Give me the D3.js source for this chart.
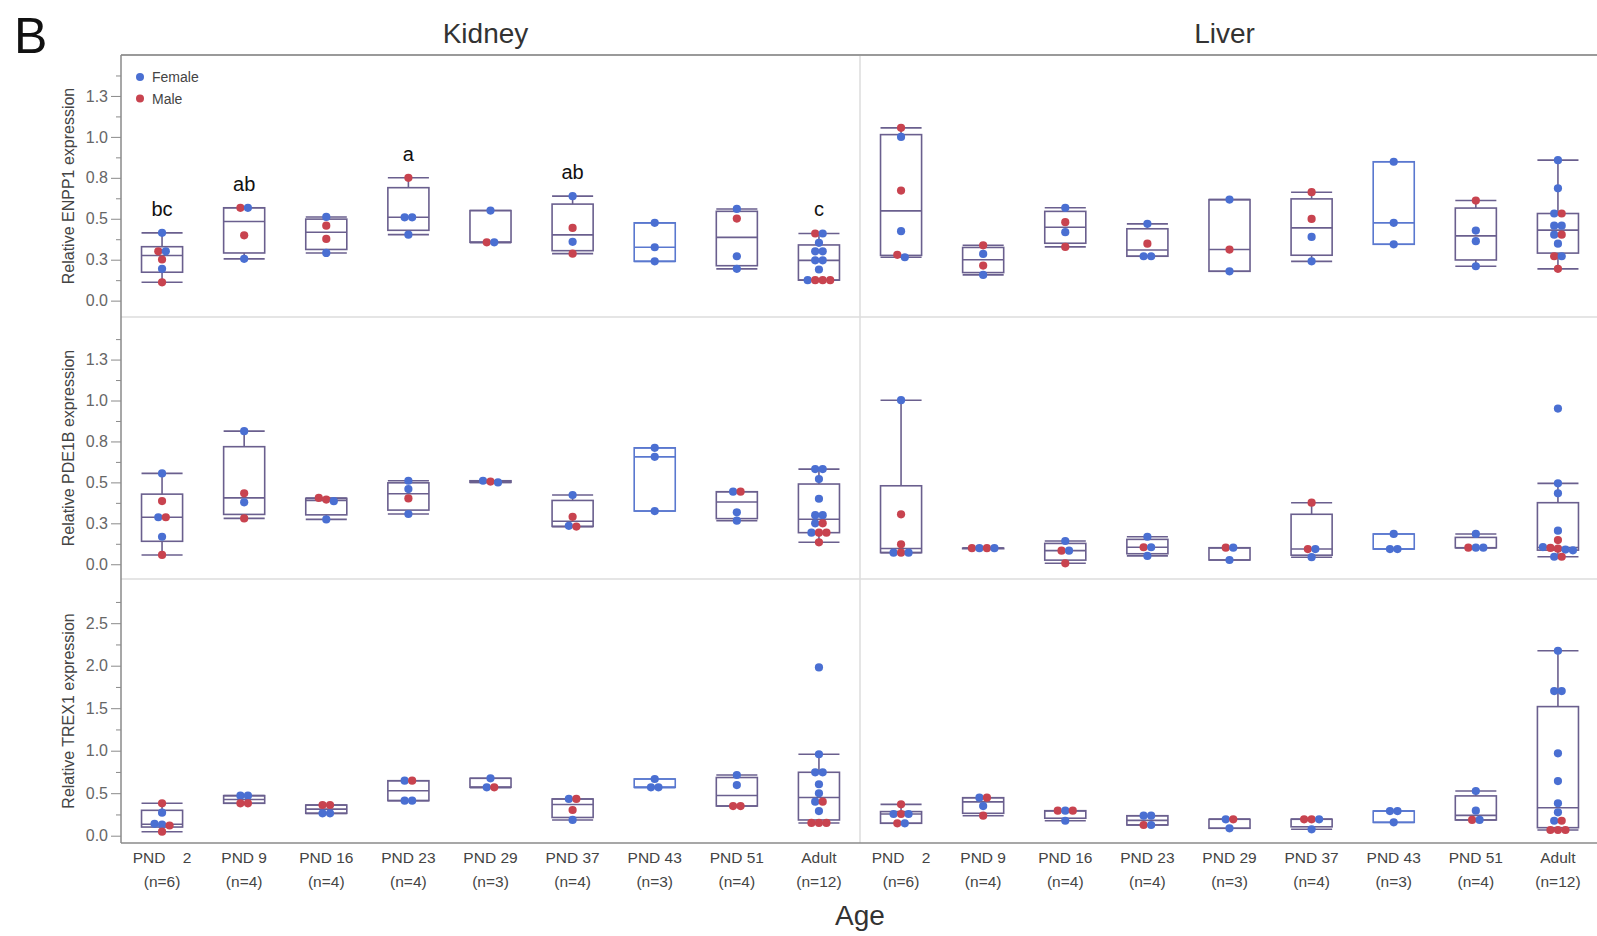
<!DOCTYPE html>
<html>
<head>
<meta charset="utf-8">
<script src="https://cdn.jsdelivr.net/npm/d3@7"></script>
<style>
  body { margin: 0; background: #fff; }
  text { font-family: "Liberation Sans", Arial, sans-serif; }
</style>
</head>
<body>
<svg id="chart" width="1597" height="936"></svg>
<script>
// categories
const ages = ["PND    2", "PND 9", "PND 16", "PND 23", "PND 29", "PND 37", "PND 43", "PND 51", "Adult"];
const counts = ["(n=6)", "(n=4)", "(n=4)", "(n=4)", "(n=3)", "(n=4)", "(n=3)", "(n=4)", "(n=12)"];
const tissues = ["Kidney", "Liver"];
const genes = ["ENPP1", "PDE1B", "TREX1"];
const kidneyENPP1Letters = ["bc", "ab", "", "a", "", "ab", "", "", "c"];

// points per age group: [sex, relative expression]
const kidneyENPP1 = [
  [["F", 0.414], ["M", 0.301], ["F", 0.301], ["M", 0.251], ["F", 0.194], ["M", 0.112]],
  [["M", 0.567], ["F", 0.567], ["M", 0.399], ["F", 0.255]],
  [["F", 0.511], ["M", 0.458], ["M", 0.377], ["F", 0.291]],
  [["M", 0.750], ["F", 0.509], ["F", 0.509], ["F", 0.403]],
  [["F", 0.550], ["M", 0.356], ["F", 0.356]],
  [["F", 0.638], ["M", 0.444], ["F", 0.359], ["M", 0.287]],
  [["F", 0.475], ["F", 0.326], ["F", 0.240]],
  [["F", 0.560], ["M", 0.501], ["F", 0.271], ["F", 0.194]],
  [["M", 0.41], ["F", 0.41], ["F", 0.353], ["F", 0.301], ["F", 0.301], ["F", 0.246], ["F", 0.246],
   ["F", 0.19], ["F", 0.125], ["M", 0.125], ["M", 0.125], ["M", 0.125]]
];
const liverENPP1 = [
  [["M", 1.055], ["F", 1.0], ["M", 0.672], ["F", 0.424], ["M", 0.28], ["F", 0.265]],
  [["M", 0.338], ["F", 0.285], ["M", 0.214], ["F", 0.157]],
  [["F", 0.567], ["M", 0.479], ["F", 0.418], ["M", 0.328]],
  [["F", 0.469], ["M", 0.348], ["F", 0.271], ["F", 0.271]],
  [["F", 0.617], ["M", 0.312], ["F", 0.179]],
  [["M", 0.662], ["M", 0.499], ["F", 0.389], ["F", 0.240]],
  [["F", 0.848], ["F", 0.475], ["F", 0.344]],
  [["M", 0.611], ["F", 0.428], ["F", 0.363], ["F", 0.21]],
  [["F", 0.858], ["F", 0.686], ["F", 0.532], ["M", 0.532], ["F", 0.458], ["F", 0.458], ["F", 0.403],
   ["M", 0.403], ["F", 0.348], ["M", 0.271], ["F", 0.271], ["M", 0.194]]
];
const kidneyPDE1B = [
  [["F", 0.555], ["M", 0.386], ["F", 0.287], ["M", 0.287], ["F", 0.168], ["M", 0.057]],
  [["F", 0.813], ["M", 0.433], ["F", 0.378], ["M", 0.28]],
  [["M", 0.405], ["M", 0.395], ["F", 0.385], ["F", 0.274]],
  [["F", 0.51], ["F", 0.459], ["M", 0.402], ["F", 0.307]],
  [["F", 0.51], ["M", 0.505], ["F", 0.50]],
  [["F", 0.423], ["M", 0.29], ["F", 0.235], ["M", 0.23]],
  [["F", 0.711], ["F", 0.656], ["F", 0.325]],
  [["F", 0.443], ["M", 0.443], ["F", 0.317], ["F", 0.266]],
  [["F", 0.581], ["F", 0.581], ["F", 0.52], ["F", 0.40], ["F", 0.30], ["F", 0.30], ["F", 0.25],
   ["M", 0.25], ["F", 0.193], ["M", 0.193], ["M", 0.193], ["M", 0.134]]
];
const liverPDE1B = [
  [["F", 1.002], ["M", 0.305], ["M", 0.122], ["F", 0.071], ["M", 0.071], ["F", 0.071]],
  [["M", 0.098], ["F", 0.098], ["M", 0.098], ["F", 0.098]],
  [["F", 0.142], ["M", 0.083], ["F", 0.083], ["M", 0.006]],
  [["F", 0.168], ["M", 0.104], ["F", 0.104], ["F", 0.051]],
  [["M", 0.101], ["F", 0.101], ["F", 0.026]],
  [["M", 0.376], ["M", 0.093], ["F", 0.093], ["F", 0.043]],
  [["F", 0.185], ["F", 0.093], ["F", 0.093]],
  [["F", 0.185], ["M", 0.101], ["F", 0.101], ["F", 0.101]],
  [["F", 0.951], ["F", 0.494], ["F", 0.433], ["F", 0.205], ["M", 0.148], ["F", 0.105], ["M", 0.10],
   ["M", 0.095], ["F", 0.09], ["F", 0.085], ["F", 0.046], ["M", 0.046]]
];
const kidneyTREX1 = [
  [["M", 0.381], ["F", 0.271], ["F", 0.14], ["F", 0.13], ["M", 0.12], ["M", 0.047]],
  [["F", 0.471], ["F", 0.471], ["M", 0.381], ["M", 0.381]],
  [["M", 0.361], ["M", 0.361], ["F", 0.263], ["F", 0.263]],
  [["F", 0.647], ["M", 0.647], ["F", 0.412], ["F", 0.412]],
  [["F", 0.675], ["F", 0.569], ["M", 0.569]],
  [["F", 0.432], ["M", 0.432], ["M", 0.302], ["F", 0.185]],
  [["F", 0.667], ["F", 0.569], ["F", 0.569]],
  [["F", 0.714], ["F", 0.596], ["M", 0.349], ["M", 0.349]],
  [["F", 1.98], ["F", 0.958], ["F", 0.746], ["F", 0.746], ["F", 0.605], ["F", 0.498], ["F", 0.40],
   ["M", 0.40], ["F", 0.29], ["M", 0.15], ["M", 0.15], ["M", 0.15]]
];
const liverTREX1 = [
  [["M", 0.369], ["F", 0.255], ["M", 0.255], ["F", 0.255], ["M", 0.146], ["F", 0.146]],
  [["F", 0.447], ["M", 0.447], ["F", 0.349], ["M", 0.235]],
  [["M", 0.294], ["F", 0.294], ["M", 0.294], ["F", 0.176]],
  [["F", 0.235], ["F", 0.235], ["M", 0.126], ["F", 0.126]],
  [["F", 0.193], ["M", 0.193], ["F", 0.087]],
  [["M", 0.193], ["M", 0.193], ["F", 0.193], ["F", 0.075]],
  [["F", 0.29], ["F", 0.29], ["F", 0.157]],
  [["F", 0.526], ["F", 0.294], ["M", 0.185], ["F", 0.185]],
  [["F", 2.176], ["F", 1.702], ["F", 1.702], ["F", 0.969], ["F", 0.643], ["F", 0.381], ["F", 0.275],
   ["F", 0.176], ["M", 0.176], ["M", 0.067], ["M", 0.067], ["M", 0.067]]
];

const rows = [
  { gene: "ENPP1", sets: [kidneyENPP1, liverENPP1], domain: [-0.1, 1.5], major: 0.25, maxTick: 1.4 },
  { gene: "PDE1B", sets: [kidneyPDE1B, liverPDE1B], domain: [-0.09, 1.51], major: 0.25, maxTick: 1.4 },
  { gene: "TREX1", sets: [kidneyTREX1, liverTREX1], domain: [-0.086, 3.02], major: 0.5, maxTick: 2.8 }
];

// layout
const left = 121, panelW = 739, right = left + 2 * panelW;
const rowTops = [55, 317, 579], rowBottom = 843;
const sexColor = { F: "#4a6fd2", M: "#c8434f" };
const boxMixed = "#6a5f8e", boxFemale = "#5a78cf";

const svg = d3.select("#chart");

const xScales = tissues.map((t, i) =>
  d3.scaleBand().domain(ages).range([left + i * panelW, left + (i + 1) * panelW]));

// frame lines
const frame = svg.append("g");
rowTops.slice(1).forEach((yy) =>
  frame.append("line").attr("x1", left).attr("x2", right).attr("y1", yy).attr("y2", yy)
    .attr("stroke", "#dcdcdc").attr("stroke-width", 1.5));
frame.append("line").attr("x1", left + panelW).attr("x2", left + panelW)
  .attr("y1", rowTops[0]).attr("y2", rowBottom).attr("stroke", "#dcdcdc").attr("stroke-width", 1.5);
frame.append("line").attr("x1", left).attr("x2", right).attr("y1", rowTops[0]).attr("y2", rowTops[0])
  .attr("stroke", "#9a9a9a").attr("stroke-width", 2);
frame.append("line").attr("x1", left).attr("x2", left).attr("y1", rowTops[0]).attr("y2", rowBottom)
  .attr("stroke", "#8a8a8a").attr("stroke-width", 1.5);
frame.append("line").attr("x1", left).attr("x2", right).attr("y1", rowBottom).attr("y2", rowBottom)
  .attr("stroke", "#8a8a8a").attr("stroke-width", 1.5);

// quantile as (n+1)p, the way JMP does it
const quant = (s, p) => {
  const h = (s.length + 1) * p - 1;
  if (h <= 0) return s[0];
  if (h >= s.length - 1) return s[s.length - 1];
  const i = Math.floor(h);
  return s[i] + (h - i) * (s[i + 1] - s[i]);
};
const boxStats = (vals) => {
  const s = vals.slice().sort(d3.ascending);
  const q1 = quant(s, 0.25), med = quant(s, 0.5), q3 = quant(s, 0.75), iqr = q3 - q1;
  const lo = d3.min(s.filter((v) => v >= q1 - 1.5 * iqr));
  const hi = d3.max(s.filter((v) => v <= q3 + 1.5 * iqr));
  return { q1, med, q3, lo, hi };
};

rows.forEach((row, r) => {
  const top = rowTops[r];
  const bottom = r < 2 ? rowTops[r + 1] : rowBottom;
  const y = d3.scaleLinear().domain(row.domain).range([bottom, top]);

  // y axis: major and minor ticks
  const major = d3.range(0, row.maxTick, row.major);
  const minor = d3.range(row.major / 2, row.maxTick + row.major / 2, row.major);
  const ax = svg.append("g").attr("transform", `translate(${left},0)`)
    .call(d3.axisLeft(y).tickValues(major).tickFormat(d3.format(".1f")).tickSize(10).tickPadding(3));
  ax.select(".domain").remove();
  ax.selectAll("line").attr("stroke", "#8a8a8a");
  ax.selectAll("text").attr("fill", "#666").style("font-size", "16px")
    .style("font-family", "'Liberation Sans', Arial, sans-serif");
  const axm = svg.append("g").attr("transform", `translate(${left},0)`)
    .call(d3.axisLeft(y).tickValues(minor).tickFormat("").tickSize(5));
  axm.select(".domain").remove();
  axm.selectAll("line").attr("stroke", "#8a8a8a");

  svg.append("text")
    .attr("transform", `translate(68,${(top + bottom) / 2}) rotate(-90)`)
    .attr("text-anchor", "middle").attr("dominant-baseline", "central")
    .attr("fill", "#444").style("font-size", "16px")
    .text(`Relative ${row.gene} expression`);

  row.sets.forEach((groups, t) => {
    const x = xScales[t];
    const bw = x.bandwidth() * 0.5;
    groups.forEach((pts, gi) => {
      const cx = x(ages[gi]) + x.bandwidth() / 2;
      const st = boxStats(pts.map((p) => p[1]));
      const col = pts.every((p) => p[0] === "F") ? boxFemale : boxMixed;
      const g = svg.append("g").attr("stroke", col).attr("stroke-width", 1.6).attr("fill", "none");

      // whiskers
      [[st.q3, st.hi], [st.q1, st.lo]].forEach(([a, b]) => {
        g.append("line").attr("x1", cx).attr("x2", cx).attr("y1", y(a)).attr("y2", y(b));
        g.append("line").attr("x1", cx - bw / 2).attr("x2", cx + bw / 2).attr("y1", y(b)).attr("y2", y(b));
      });
      // box and median
      g.append("rect").attr("x", cx - bw / 2).attr("width", bw)
        .attr("y", y(st.q3)).attr("height", Math.max(0.5, y(st.q1) - y(st.q3)));
      g.append("line").attr("x1", cx - bw / 2).attr("x2", cx + bw / 2)
        .attr("y1", y(st.med)).attr("y2", y(st.med));

      // points: equal values sit side by side in a row
      const items = pts.map((p, i) => ({ sex: p[0], v: p[1], i, py: y(p[1]) }))
        .sort((a, b) => a.py - b.py || a.i - b.i);
      const clusters = [];
      items.forEach((it) => {
        const last = clusters[clusters.length - 1];
        if (last && it.py - last[0].py <= 4) last.push(it);
        else clusters.push([it]);
      });
      clusters.forEach((cl) => {
        cl.sort((a, b) => a.i - b.i);
        cl.forEach((it, k) => { it.px = cx + (k - (cl.length - 1) / 2) * 7.5; });
      });
      svg.append("g").selectAll("circle").data(items).enter().append("circle")
        .attr("cx", (d) => d.px).attr("cy", (d) => d.py).attr("r", 4.1)
        .attr("fill", (d) => sexColor[d.sex]);

      // significance letters (kidney ENPP1 only)
      if (r === 0 && t === 0 && kidneyENPP1Letters[gi]) {
        svg.append("text").attr("x", cx).attr("y", y(d3.max(pts, (p) => p[1])) - 17)
          .attr("text-anchor", "middle").attr("fill", "#111").style("font-size", "20px")
          .text(kidneyENPP1Letters[gi]);
      }
    });
  });
});

// x labels
tissues.forEach((t, i) => {
  const x = xScales[i];
  const lab = svg.append("g").attr("fill", "#444").style("font-size", "15.5px").attr("text-anchor", "middle");
  lab.selectAll(".age").data(ages).enter().append("text")
    .attr("x", (d) => x(d) + x.bandwidth() / 2).attr("y", 863)
    .style("white-space", "pre").text((d) => d);
  lab.selectAll(".cnt").data(counts).enter().append("text")
    .attr("x", (d, k) => x(ages[k]) + x.bandwidth() / 2).attr("y", 887)
    .text((d) => d);

  svg.append("text").attr("x", left + panelW * i + panelW / 2 - 5).attr("y", 43)
    .attr("text-anchor", "middle").attr("fill", "#333").style("font-size", "28px").text(t);
});

svg.append("text").attr("x", left + panelW).attr("y", 925).attr("text-anchor", "middle")
  .attr("fill", "#333").style("font-size", "28px").text("Age");
svg.append("text").attr("x", 14).attr("y", 53).attr("fill", "#111").style("font-size", "50px").text("B");

// legend
const legend = svg.append("g");
[["Female", "F"], ["Male", "M"]].forEach(([name, key], i) => {
  legend.append("circle").attr("cx", 140).attr("cy", 77 + i * 21.5).attr("r", 4).attr("fill", sexColor[key]);
  legend.append("text").attr("x", 152).attr("y", 82 + i * 21.5).attr("fill", "#444")
    .style("font-size", "14px").text(name);
});
</script>
</body>
</html>
